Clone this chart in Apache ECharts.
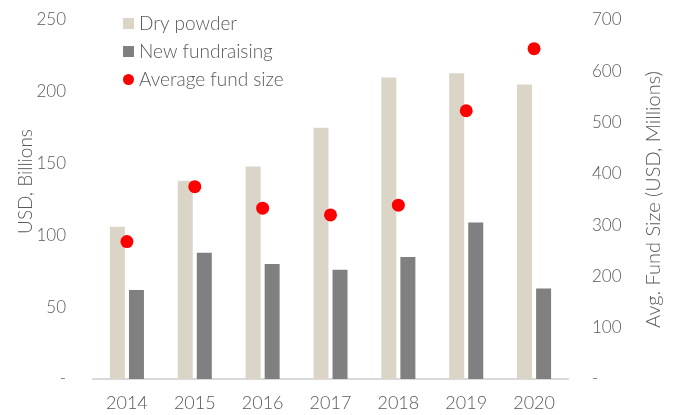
<!DOCTYPE html>
<html>
<head>
<meta charset="utf-8">
<script src="https://cdn.jsdelivr.net/npm/echarts@6/dist/echarts.min.js"></script>
<style>
html, body { margin: 0; padding: 0; background: #fff; }
#chart { width: 675px; height: 415px; }
</style>
</head>
<body>
<div id="chart"></div>
<script>
var years = ['2014', '2015', '2016', '2017', '2018', '2019', '2020'];
var dryPowder = [106, 138, 148, 175, 210, 213, 205];
var newFundraising = [62, 88, 80, 76, 85, 109, 63];
var avgFundSize = [268, 375, 333, 320, 339, 523, 644];

var textColor = '#595959';
var fontFamily = 'Lato, "Open Sans", sans-serif';

var myChart = echarts.init(document.getElementById('chart'));

function dashZero(value) {
    return value === 0 ? '-' : value;
}

var option = {
    animation: false,
    textStyle: { fontFamily: fontFamily, color: textColor },
    grid: { left: 93, right: 107, top: 20, bottom: 36 },
    legend: {
        orient: 'vertical',
        left: 118,
        top: 9,
        itemGap: 9,
        itemWidth: 11,
        itemHeight: 11,
        textStyle: { fontSize: 19, color: textColor, fontFamily: fontFamily, fontWeight: 300 },
        data: [
            { name: 'Dry powder', icon: 'rect' },
            { name: 'New fundraising', icon: 'rect' },
            { name: 'Average fund size', icon: 'circle' }
        ]
    },
    xAxis: {
        type: 'category',
        data: years,
        axisLine: { lineStyle: { color: '#d9d9d9', width: 2 } },
        axisTick: { show: false },
        axisLabel: { fontSize: 18, color: textColor, margin: 15, fontWeight: 300 }
    },
    yAxis: [{
        type: 'value',
        min: 0,
        max: 250,
        interval: 50,
        name: 'USD, Billions',
        nameLocation: 'middle',
        nameGap: 58,
        nameMoveOverlap: false,
        nameTextStyle: { fontSize: 19, color: textColor, fontWeight: 300, padding: [0, 0, 0, 36] },
        splitLine: { show: false },
        axisLine: { show: false },
        axisTick: { show: false },
        axisLabel: { fontSize: 17, color: textColor, margin: 27, fontWeight: 300, formatter: dashZero }
    }, {
        type: 'value',
        min: 0,
        max: 700,
        interval: 100,
        position: 'right',
        name: 'Avg. Fund Size (USD, Millions)',
        nameLocation: 'middle',
        nameGap: 76,
        nameTextStyle: { fontSize: 20, color: textColor, fontWeight: 300 },
        splitLine: { show: false },
        axisLine: { show: false },
        axisTick: { show: false },
        axisLabel: { fontSize: 17, color: textColor, margin: 24, fontWeight: 300, formatter: dashZero }
    }],
    series: [{
        name: 'Dry powder',
        type: 'bar',
        data: dryPowder,
        barWidth: 15,
        barGap: '27%',
        itemStyle: { color: '#dbd5c7' }
    }, {
        name: 'New fundraising',
        type: 'bar',
        data: newFundraising,
        barWidth: 15,
        barGap: '27%',
        itemStyle: { color: '#808080' }
    }, {
        name: 'Average fund size',
        type: 'scatter',
        yAxisIndex: 1,
        data: avgFundSize,
        symbolSize: 13,
        itemStyle: { color: '#ff0000', opacity: 1 },
        z: 5
    }]
};

myChart.setOption(option);
</script>
</body>
</html>
